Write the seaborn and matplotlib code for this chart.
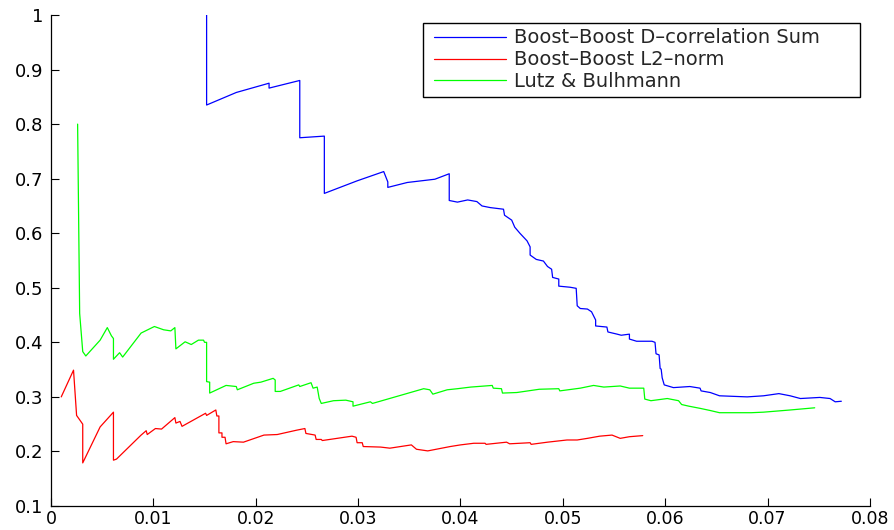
import matplotlib
matplotlib.use("Agg")
import matplotlib.pyplot as plt
from matplotlib.legend_handler import HandlerLine2D
import seaborn as sns
import pandas as pd

# ---------------- data ----------------
blue_x = [0.0152, 0.0152, 0.0181, 0.0213, 0.0213, 0.0243, 0.0243, 0.0267, 0.0267, 0.0299,
          0.0325, 0.0329, 0.0329, 0.0348, 0.0375, 0.0389, 0.0389, 0.0397, 0.0407, 0.0416,
          0.0421, 0.0429, 0.0442, 0.0443, 0.0450, 0.0453, 0.0458, 0.0465, 0.0468, 0.0468,
          0.0474, 0.0481, 0.0485, 0.0489, 0.0490, 0.0496, 0.0496, 0.0507, 0.0513, 0.0514,
          0.0517, 0.0524, 0.0528, 0.0532, 0.0532, 0.0543, 0.0544, 0.0553, 0.0557, 0.0565,
          0.0565, 0.0572, 0.0587, 0.0590, 0.0591, 0.0594, 0.0595, 0.0596, 0.0597, 0.0599,
          0.0608, 0.0624, 0.0634, 0.0635, 0.0644, 0.0653, 0.0680, 0.0696, 0.0711, 0.0722,
          0.0732, 0.0751, 0.0761, 0.0766, 0.0772]
blue_y = [1.000, 0.835, 0.858, 0.875, 0.866, 0.880, 0.775, 0.778, 0.673, 0.696,
          0.713, 0.694, 0.684, 0.693, 0.699, 0.709, 0.660, 0.657, 0.661, 0.658,
          0.650, 0.647, 0.644, 0.633, 0.624, 0.611, 0.600, 0.586, 0.575, 0.560,
          0.552, 0.549, 0.539, 0.534, 0.519, 0.516, 0.503, 0.501, 0.499, 0.467,
          0.462, 0.461, 0.456, 0.441, 0.430, 0.428, 0.419, 0.415, 0.413, 0.415,
          0.406, 0.402, 0.402, 0.400, 0.379, 0.377, 0.352, 0.351, 0.335, 0.322,
          0.317, 0.319, 0.316, 0.311, 0.308, 0.302, 0.300, 0.302, 0.306, 0.302,
          0.297, 0.299, 0.297, 0.291, 0.292]

red_x = [0.0010, 0.0022, 0.0025, 0.0031, 0.0031, 0.0048, 0.0061, 0.0061, 0.0064, 0.0088,
         0.0093, 0.0094, 0.0102, 0.0108, 0.0121, 0.0122, 0.0126, 0.0128, 0.0151, 0.0152,
         0.0161, 0.0162, 0.0164, 0.0164, 0.0167, 0.0167, 0.0170, 0.0171, 0.0178, 0.0188,
         0.0208, 0.0221, 0.0240, 0.0248, 0.0249, 0.0258, 0.0259, 0.0264, 0.0265, 0.0294,
         0.0298, 0.0299, 0.0304, 0.0305, 0.0322, 0.0331, 0.0352, 0.0357, 0.0368, 0.0390,
         0.0400, 0.0413, 0.0424, 0.0425, 0.0445, 0.0448, 0.0468, 0.0469, 0.0485, 0.0504,
         0.0514, 0.0524, 0.0536, 0.0548, 0.0556, 0.0565, 0.0578]
red_y = [0.300, 0.349, 0.266, 0.250, 0.179, 0.245, 0.272, 0.184, 0.186, 0.230,
         0.238, 0.231, 0.242, 0.241, 0.262, 0.252, 0.255, 0.246, 0.270, 0.266,
         0.276, 0.265, 0.265, 0.234, 0.234, 0.226, 0.226, 0.214, 0.218, 0.217,
         0.230, 0.231, 0.239, 0.242, 0.233, 0.230, 0.222, 0.222, 0.220, 0.228,
         0.226, 0.216, 0.216, 0.209, 0.208, 0.206, 0.212, 0.204, 0.201, 0.209,
         0.212, 0.215, 0.215, 0.213, 0.217, 0.214, 0.216, 0.213, 0.217, 0.221,
         0.221, 0.224, 0.228, 0.230, 0.224, 0.227, 0.229]

green_x = [0.0026, 0.0028, 0.0031, 0.0034, 0.0048, 0.0055, 0.0059, 0.0061, 0.0061, 0.0067,
           0.0070, 0.0088, 0.0101, 0.0110, 0.0117, 0.0121, 0.0122, 0.0131, 0.0137, 0.0144,
           0.0149, 0.0150, 0.0152, 0.0152, 0.0155, 0.0155, 0.0171, 0.0181, 0.0182, 0.0198,
           0.0205, 0.0217, 0.0219, 0.0219, 0.0224, 0.0242, 0.0243, 0.0254, 0.0256, 0.0260,
           0.0262, 0.0264, 0.0276, 0.0288, 0.0295, 0.0295, 0.0312, 0.0314, 0.0364, 0.0370,
           0.0373, 0.0387, 0.0397, 0.0410, 0.0431, 0.0432, 0.0440, 0.0441, 0.0455, 0.0477,
           0.0496, 0.0497, 0.0517, 0.0530, 0.0540, 0.0556, 0.0565, 0.0579, 0.0580, 0.0586,
           0.0602, 0.0613, 0.0616, 0.0623, 0.0634, 0.0644, 0.0653, 0.0684, 0.0696, 0.0722,
           0.0746]
green_y = [0.800, 0.453, 0.383, 0.375, 0.404, 0.427, 0.412, 0.407, 0.369, 0.381,
           0.373, 0.417, 0.429, 0.423, 0.421, 0.427, 0.388, 0.401, 0.396, 0.404,
           0.404, 0.400, 0.400, 0.328, 0.327, 0.307, 0.321, 0.319, 0.313, 0.325,
           0.327, 0.334, 0.331, 0.310, 0.310, 0.322, 0.319, 0.326, 0.316, 0.318,
           0.297, 0.288, 0.293, 0.294, 0.291, 0.283, 0.291, 0.288, 0.315, 0.313,
           0.305, 0.313, 0.315, 0.318, 0.321, 0.316, 0.315, 0.307, 0.308, 0.314,
           0.315, 0.311, 0.316, 0.321, 0.318, 0.320, 0.316, 0.316, 0.296, 0.293,
           0.297, 0.293, 0.286, 0.283, 0.279, 0.275, 0.271, 0.271, 0.272, 0.276,
           0.280]

labels = ["Boost\u2013Boost D\u2013correlation Sum",
          "Boost\u2013Boost L2\u2013norm",
          "Lutz & Bulhmann"]
colors = ["#0000ff", "#ff0000", "#00ff00"]
x_ticks = [0, 0.01, 0.02, 0.03, 0.04, 0.05, 0.06, 0.07, 0.08]
x_tick_labels = ["0", "0.01", "0.02", "0.03", "0.04", "0.05", "0.06", "0.07", "0.08"]
y_ticks = [0.1, 0.2, 0.3, 0.4, 0.5, 0.6, 0.7, 0.8, 0.9, 1.0]
y_tick_labels = ["0.1", "0.2", "0.3", "0.4", "0.5", "0.6", "0.7", "0.8", "0.9", "1"]

# ---------------- style ----------------
sns.set_style("ticks")
plt.rcParams["font.family"] = ["DejaVu Sans"]

fig = plt.figure(figsize=(8.94, 5.30), dpi=100)
ax = fig.add_axes([51 / 894, 24 / 530, 819 / 894, 491 / 530])

series = [(blue_x, blue_y), (red_x, red_y), (green_x, green_y)]
for (xs, ys), lab, col in zip(series, labels, colors):
    df = pd.DataFrame({"x": xs, "y": ys})
    sns.lineplot(data=df, x="x", y="y", sort=False, estimator=None,
                 color=col, linewidth=0.9, label=lab, ax=ax)

ax.set_xlim(0, 0.08)
ax.set_ylim(0.1, 1.0)
ax.set_xticks(x_ticks)
ax.set_xticklabels(x_tick_labels)
ax.set_yticks(y_ticks)
ax.set_yticklabels(y_tick_labels)
ax.set_xlabel("")
ax.set_ylabel("")
for s in ["top", "right"]:
    ax.spines[s].set_visible(False)
for s in ["left", "bottom"]:
    ax.spines[s].set_color("black")
    ax.spines[s].set_linewidth(0.9)
ax.tick_params(direction="in", length=5.5, width=0.8, colors="black")
ax.tick_params(axis="y", pad=5.5, labelsize=13)
ax.tick_params(axis="x", pad=2.8, labelsize=12.5)

leg_left, leg_top, leg_right, leg_bottom = 423, 23, 860, 96
leg = ax.legend(loc="upper left",
                bbox_to_anchor=(leg_left / 894, 1 - leg_bottom / 530,
                                (leg_right - leg_left) / 894,
                                (leg_bottom - leg_top) / 530),
                bbox_transform=fig.transFigure, borderaxespad=0, mode="expand",
                fontsize=14, frameon=True, fancybox=False, shadow=False,
                numpoints=2, handlelength=4.3, handletextpad=0.12,
                labelspacing=0.15, borderpad=0.28,
                handler_map={matplotlib.lines.Line2D: HandlerLine2D(marker_pad=0.3)})
leg.get_frame().set_edgecolor("black")
leg.get_frame().set_linewidth(1.0)
leg.get_frame().set_alpha(1.0)
for h in leg.get_lines():
    h.set_linewidth(0.9)

fig.savefig("out.png", dpi=100)
